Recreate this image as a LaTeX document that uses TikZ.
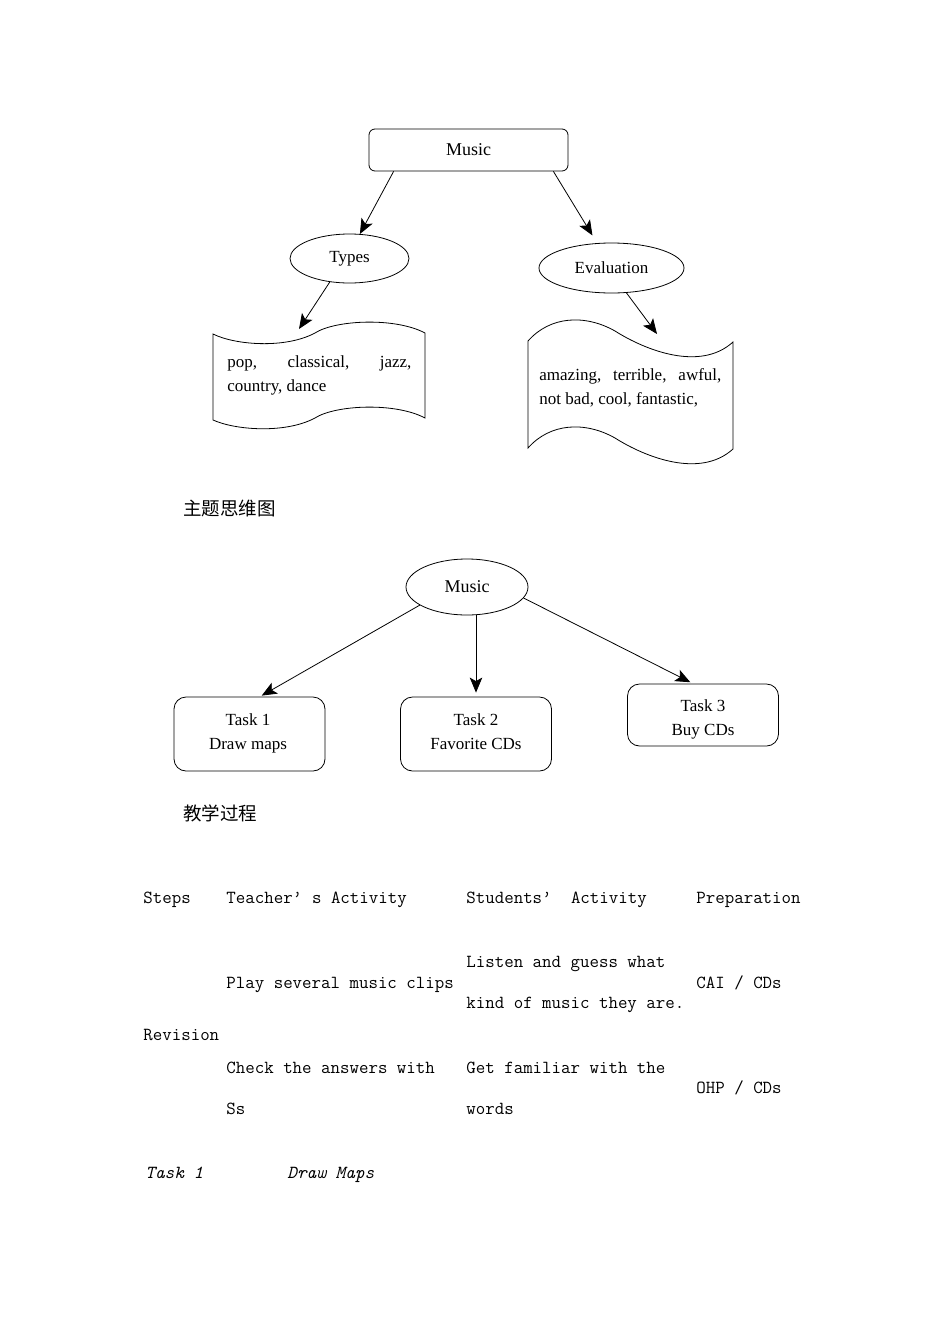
\documentclass[tikz,border=0pt]{standalone}
\usepackage{fontspec}
\setmainfont{Liberation Serif}
\newfontfamily\cjk{Noto Sans CJK SC}
\usetikzlibrary{shapes.geometric,arrows.meta,calc}
\newcommand\wq{\makebox[1.05em][l]{’}}
\begin{document}
\begin{tikzpicture}[x=1pt,y=-1pt,
  line width=0.8pt,
  arr/.style={-{Stealth[length=15pt,width=12.5pt,inset=3.5pt]}, line width=0.8pt},
  lbl/.style={font=\fontsize{17}{24}\selectfont, inner sep=0pt},
  tlbl/.style={font=\fontsize{17}{24}\selectfont, inner sep=0pt, anchor=base},
  rbox/.style={draw, rounded corners=6pt, inner sep=0pt},
  tbox/.style={draw, rounded corners=12pt, inner sep=0pt, minimum width=151pt},
  ell/.style={draw, ellipse, inner sep=0pt},
  mono/.style={font=\ttfamily\fontsize{18.4}{24}\selectfont, anchor=base west, inner sep=0pt},
  monoit/.style={font=\ttfamily\itshape\fontsize{18.4}{24}\selectfont, anchor=base west, inner sep=0pt},
  captxt/.style={font=\cjk\fontsize{18.5}{24}\selectfont, anchor=base west, inner sep=0pt},
  wave/.style={draw, line width=0.8pt}]
\useasboundingbox (0,0) rectangle (950,1344);
\fill[white] (0,0) rectangle (950,1344);

% ---- top mind map ----
\node[rbox, font=\fontsize{18}{24}\selectfont, inner sep=0pt, minimum width=199pt, minimum height=42pt] (music) at (468.5,150) {Music};
\node[ell, lbl, minimum width=119pt, minimum height=49pt] (types) at (349.5,258.5) {Types};
\node[ell, lbl, minimum width=145pt, minimum height=50pt] (eval) at (611.5,268) {Evaluation};

\draw[wave] (213,334) .. controls (235,345) and (285,349) .. (315,333)
  .. controls (335,320) and (395,317) .. (425,333) -- (425,418)
  .. controls (395,402) and (335,405) .. (315,418)
  .. controls (285,434) and (235,430) .. (213,420) -- cycle;
\draw[wave] (528,341) .. controls (550,316) and (585,314) .. (615,331)
  .. controls (645,350) and (700,372) .. (733,342) -- (733,449)
  .. controls (700,479) and (645,457) .. (615,438)
  .. controls (585,421) and (550,423) .. (528,448) -- cycle;
\coordinate (lw) at (299,329);
\coordinate (rw) at (657,334);

\draw[arr] ($(music.south west)+(25,0)$) -- (types.67);
\draw[arr, shorten >=9pt] ($(music.south east)+(-15,0)$) -- (eval.120);
\draw[arr] (types.-130) -- (lw);
\draw[arr] (eval.-59) -- (rw);

\node[lbl, anchor=base west] (t1a) at (227,367) {\makebox[184pt][s]{pop, classical, jazz,}};
\node[lbl, anchor=base west] (t1b) at (227,391) {country, dance};
\node[lbl, anchor=base west] (t2a) at (539,380) {\makebox[182pt][s]{amazing, terrible, awful,}};
\node[lbl, anchor=base west] (t2b) at (539,404) {not bad, cool, fantastic,};

\node[captxt] (c1) at (183,515) {主题思维图};

% ---- middle diagram ----
\node[ell, font=\fontsize{18}{24}\selectfont, inner sep=0pt, minimum width=122pt, minimum height=56pt] (m2) at (467,587) {Music};
\node[tbox, minimum height=74pt] (task1) at (249.5,734) {};
\node[tbox, minimum height=74pt] (task2) at (476,734) {};
\node[tbox, minimum height=62pt] (task3) at (703,715) {};
\node[tlbl] (task1a) at (248,725) {Task 1};
\node[tlbl] (task1b) at (248,749) {Draw maps};
\node[tlbl] (task2a) at (476,725) {Task 2};
\node[tlbl] (task2b) at (476,749) {Favorite CDs};
\node[tlbl] (task3a) at (703,711) {Task 3};
\node[tlbl] (task3b) at (703,735) {Buy CDs};

\draw[arr, shorten >=2pt] (m2.-159) -- ($(task1.north)+(10.5,0)$);
\draw[arr, shorten >=4pt] (m2.south -| task2.north) -- (task2.north);
\draw[arr, shorten >=3pt] (m2.-11) -- ($(task3.north)+(-10,0)$);

\node[captxt] (c2) at (183,820) {教学过程};

% ---- table ----
\node[mono] (h1) at (143,903) {Steps};
\node[mono] (h2) at (226,903) {Teacher\wq s Activity};
\node[mono] (h3) at (466,903) {Students\wq{} Activity};
\node[mono] (h4) at (696,903) {Preparation};
\node[mono] (r1a) at (226,988) {Play several music clips};
\node[mono] (r1b) at (466,967) {Listen and guess what};
\node[mono] (r1c) at (466,1008) {kind of music they are.};
\node[mono] (r1d) at (696,988) {CAI / CDs};
\node[mono] (rev) at (143,1040) {Revision};
\node[mono] (r2a) at (226,1073) {Check the answers with};
\node[mono] (r2b) at (226,1114) {Ss};
\node[mono] (r2c) at (466,1073) {Get familiar with the};
\node[mono] (r2d) at (466,1114) {words};
\node[mono] (r2e) at (696,1093) {OHP / CDs};
\node[monoit] (tk1) at (145,1178) {Task 1};
\node[monoit] (tk2) at (287,1178) {Draw Maps};
\end{tikzpicture}
\end{document}
